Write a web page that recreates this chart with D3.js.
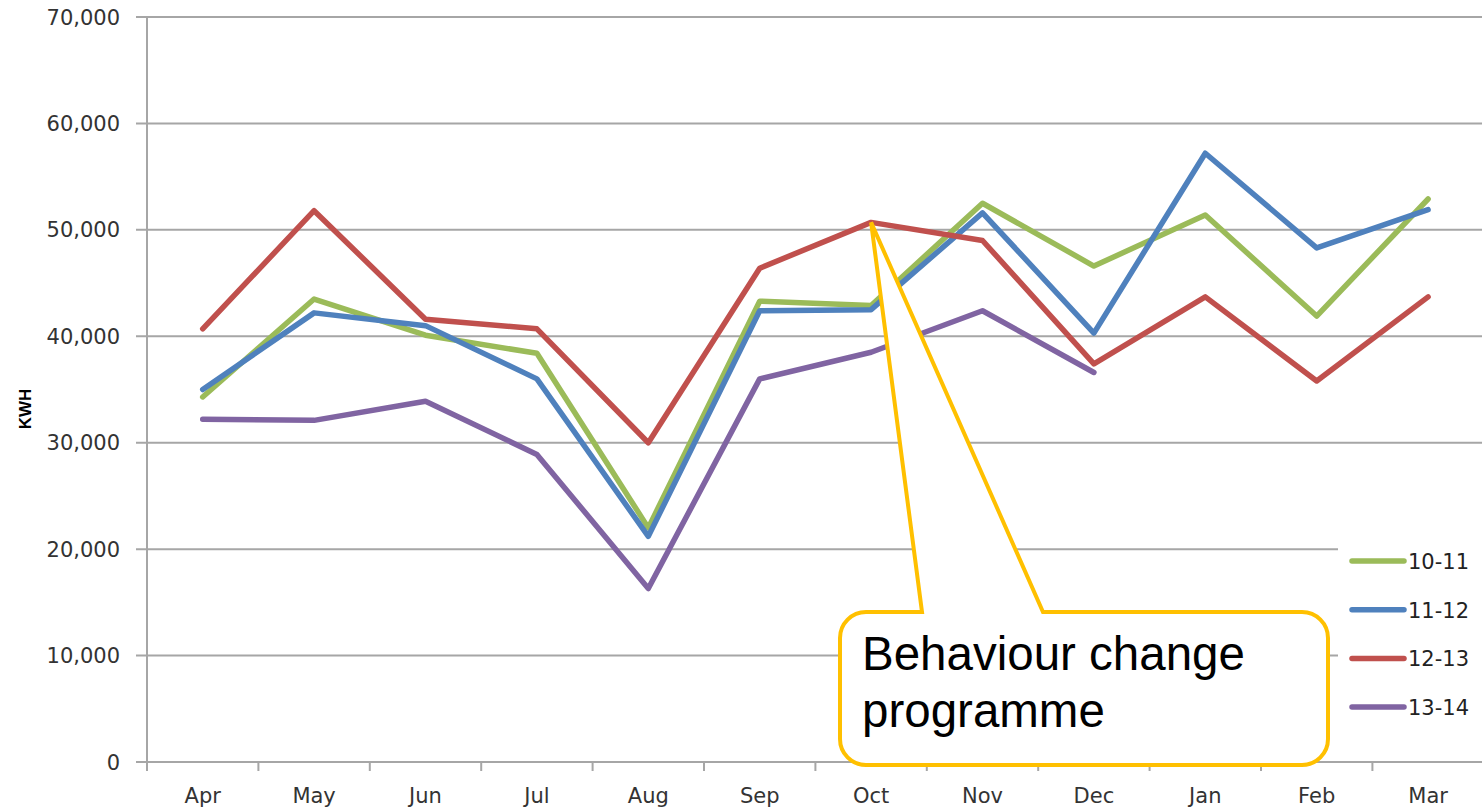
<!DOCTYPE html>
<html>
<head>
<meta charset="utf-8">
<script src="https://cdn.jsdelivr.net/npm/d3@7/dist/d3.min.js"></script>
<style>
  html, body { margin: 0; padding: 0; background: #fff; overflow: hidden; }
  svg { display: block; }
</style>
</head>
<body>
<svg id="chart" width="1482" height="808"></svg>
<script>
const months = ["Apr","May","Jun","Jul","Aug","Sep","Oct","Nov","Dec","Jan","Feb","Mar"];
const seriesNames = ["10-11","11-12","12-13","13-14"];
const s1011 = [34300, 43500, 40100, 38400, 22000, 43300, 42900, 52500, 46600, 51400, 41900, 52900];
const s1112 = [35000, 42200, 41000, 36000, 21200, 42400, 42500, 51600, 40300, 57200, 48300, 51900];
const s1213 = [40700, 51800, 41600, 40700, 30000, 46400, 50700, 49000, 37400, 43700, 35800, 43700];
const s1314 = [32200, 32100, 33900, 28900, 16300, 36000, 38500, 42400, 36600, null, null, null];
const yTicks = [0, 10000, 20000, 30000, 40000, 50000, 60000, 70000];
const seriesColors = ["#9BBB59", "#4F81BD", "#C0504D", "#8064A2"];
const yLabel = "KWH";
const calloutLines = ["Behaviour change", "programme"];
const calloutMonth = "Oct";
const calloutValue = 50700;

(function () {
const series = [s1011, s1112, s1213, s1314].map((vals, i) => ({
  name: seriesNames[i], color: seriesColors[i],
  points: vals.map((v, j) => ({ m: months[j], v }))
}));

const svg = d3.select("#chart");
const pLeft = 147, pRight = 147 + 12 * 111.4, pTop = 17, pBottom = 762;
const x = d3.scaleBand().domain(months).range([pLeft, pRight]).padding(0);
const y = d3.scaleLinear().domain([0, 70000]).range([pBottom, pTop]);
const cx = m => x(m) + x.bandwidth() / 2;

const axisFont = "'DejaVu Sans', Verdana, sans-serif";
const gridColor = "#A6A6A6";

// gridlines + y tick marks
svg.append("g").selectAll("line").data(yTicks).join("line")
  .attr("x1", pLeft - 11).attr("x2", pRight)
  .attr("y1", d => y(d)).attr("y2", d => y(d))
  .attr("stroke", gridColor).attr("stroke-width", 2);

// y axis line
svg.append("line").attr("x1", pLeft).attr("x2", pLeft)
  .attr("y1", pTop).attr("y2", pBottom + 9)
  .attr("stroke", gridColor).attr("stroke-width", 2);

// x tick marks at category boundaries
const bounds = months.map(m => x(m)).concat([pRight]);
svg.append("g").selectAll("line").data(bounds).join("line")
  .attr("x1", d => d).attr("x2", d => d)
  .attr("y1", pBottom).attr("y2", pBottom + 9)
  .attr("stroke", gridColor).attr("stroke-width", 2);

// y tick labels
const fmt = d3.format(",");
svg.append("g").selectAll("text").data(yTicks).join("text")
  .attr("x", 120).attr("y", d => y(d) + 7.5)
  .attr("text-anchor", "end")
  .attr("font-family", axisFont).attr("font-size", 21)
  .attr("fill", "#333")
  .text(d => fmt(d));

// x labels
svg.append("g").selectAll("text").data(months).join("text")
  .attr("x", d => cx(d)).attr("y", 803)
  .attr("text-anchor", "middle")
  .attr("font-family", axisFont).attr("font-size", 21)
  .attr("fill", "#333")
  .text(d => d);

// y axis title
svg.append("text")
  .attr("transform", "translate(31,409) rotate(-90)")
  .attr("text-anchor", "middle")
  .attr("font-family", "'Liberation Sans', Arial, sans-serif")
  .attr("font-weight", "bold").attr("font-size", 17)
  .attr("fill", "#000")
  .text(yLabel);

// lines
const line = d3.line()
  .defined(d => d.v !== null)
  .x(d => cx(d.m)).y(d => y(d.v));
svg.append("g").selectAll("path").data(series).join("path")
  .attr("d", d => line(d.points))
  .attr("fill", "none")
  .attr("stroke", d => d.color)
  .attr("stroke-width", 5.5)
  .attr("stroke-linejoin", "round")
  .attr("stroke-linecap", "round");

// legend
const lg = svg.append("g");
lg.append("rect").attr("x", 1338).attr("y", 535).attr("width", 150).attr("height", 195).attr("fill", "#fff");
const items = lg.selectAll("g").data(series).join("g")
  .attr("transform", (d, i) => `translate(0,${561 + i * 48.7})`);
items.append("line").attr("x1", 1352).attr("x2", 1404).attr("y1", 0).attr("y2", 0)
  .attr("stroke", d => d.color).attr("stroke-width", 5.5).attr("stroke-linecap", "round");
items.append("text").attr("x", 1408).attr("y", 8)
  .attr("font-family", axisFont).attr("font-size", 21)
  .attr("fill", "#222")
  .text(d => d.name);

// callout
const tipX = cx(calloutMonth), tipY = y(calloutValue);
const bx0 = 840, by0 = 612, bx1 = 1328, by1 = 765, r = 26;
const p1 = 922, p2 = 1043;
const p = d3.path();
p.moveTo(bx0 + r, by0);
p.lineTo(p1, by0);
p.lineTo(tipX, tipY);
p.lineTo(p2, by0);
p.lineTo(bx1 - r, by0);
p.arcTo(bx1, by0, bx1, by0 + r, r);
p.lineTo(bx1, by1 - r);
p.arcTo(bx1, by1, bx1 - r, by1, r);
p.lineTo(bx0 + r, by1);
p.arcTo(bx0, by1, bx0, by1 - r, r);
p.lineTo(bx0, by0 + r);
p.arcTo(bx0, by0, bx0 + r, by0, r);
p.closePath();
svg.append("path").attr("d", p.toString())
  .attr("fill", "#fff").attr("stroke", "#FFC000").attr("stroke-width", 4)
  .attr("stroke-linejoin", "miter");

svg.append("g").selectAll("text").data(calloutLines).join("text")
  .attr("x", 862).attr("y", (d, i) => 670 + i * 57)
  .attr("font-family", "'Liberation Sans', Arial, sans-serif")
  .attr("font-size", 47.5).attr("fill", "#000")
  .text(d => d);
})();
</script>
</body>
</html>
